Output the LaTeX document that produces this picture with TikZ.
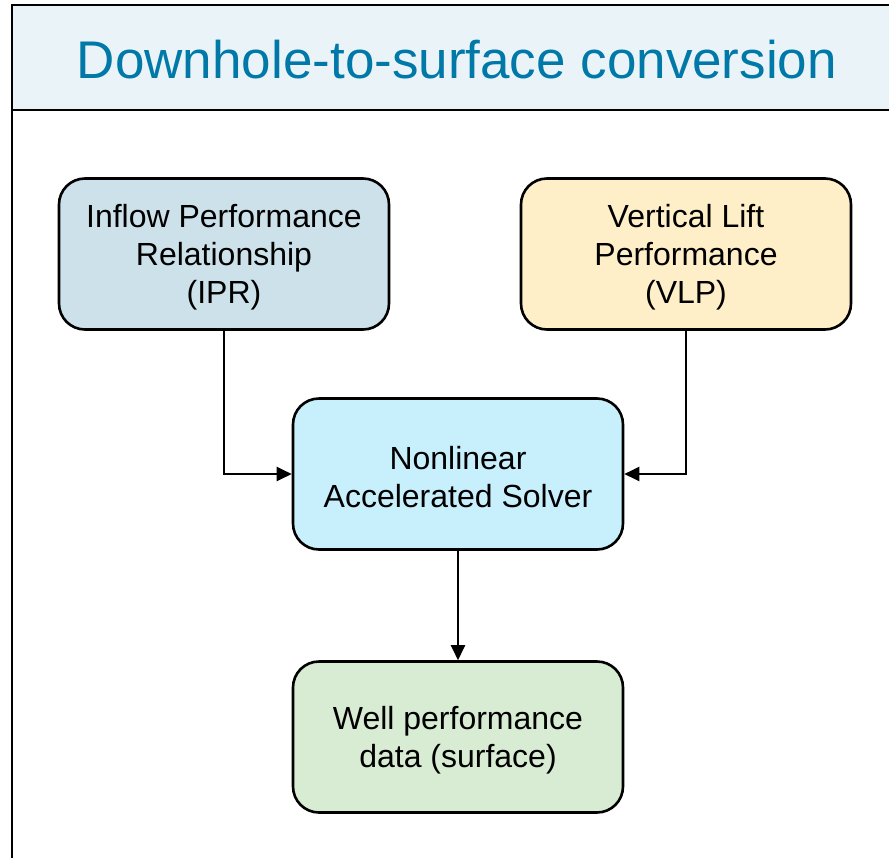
\documentclass[tikz,border=0pt]{standalone}
\usepackage{fontspec}
\setmainfont{Liberation Sans}
\usetikzlibrary{arrows.meta}
\definecolor{hdrfill}{RGB}{234,244,248}
\definecolor{hdrtext}{RGB}{0,120,168}
\definecolor{iprfill}{RGB}{204,225,234}
\definecolor{vlpfill}{RGB}{255,239,201}
\definecolor{solvfill}{RGB}{200,239,252}
\definecolor{wellfill}{RGB}{216,236,212}
\tikzset{
  stagebox/.style={draw=black, line width=2.6pt, rounded corners=26pt,
    minimum width=330pt, minimum height=151pt, align=center,
    font=\fontsize{32}{38}\selectfont, inner sep=0pt},
  flow/.style={draw=black, line width=2.3pt,
    -{Triangle[length=15pt,width=14pt]}},
}
\begin{document}
\begin{tikzpicture}[x=1pt, y=-1pt]
  \useasboundingbox (0,0) rectangle (889,857);
  % outer frame and title band
  \draw[line width=2.8pt] (12,5) -- (12,870);
  \draw[line width=2.8pt, fill=hdrfill] (12,5) rectangle (900,110);
  \node[text=hdrtext, font=\fontsize{53}{60}\selectfont] (title) at (457,60)
    {Downhole-to-surface conversion};
  % stages
  \node[stagebox, fill=iprfill] (ipr) at (224,254) {};
  \node[stagebox, fill=vlpfill] (vlp) at (686,254) {};
  \node[stagebox, fill=solvfill] (solver) at (458,474) {};
  \node[stagebox, fill=wellfill] (well) at (458,737) {};
  % stage labels, set slightly below the geometric centre
  \node[align=center, font=\fontsize{32}{38}\selectfont] (iprlbl)
    at ([yshift=-3pt]ipr.center) {Inflow Performance\\Relationship\\(IPR)};
  \node[align=center, font=\fontsize{32}{38}\selectfont] (vlplbl)
    at ([yshift=-3pt]vlp.center) {Vertical Lift\\Performance\\(VLP)};
  \node[align=center, font=\fontsize{32}{38}\selectfont] (solverlbl)
    at ([yshift=-3pt]solver.center) {Nonlinear\\Accelerated Solver};
  \node[align=center, font=\fontsize{32}{38}\selectfont] (welllbl)
    at ([yshift=-3pt]well.center) {Well performance\\data (surface)};
  % connectors
  \draw[flow] (ipr.south) |- (solver.west);
  \draw[flow] (vlp.south) |- (solver.east);
  \draw[flow] (solver.south) -- (well.north);
\end{tikzpicture}
\end{document}
